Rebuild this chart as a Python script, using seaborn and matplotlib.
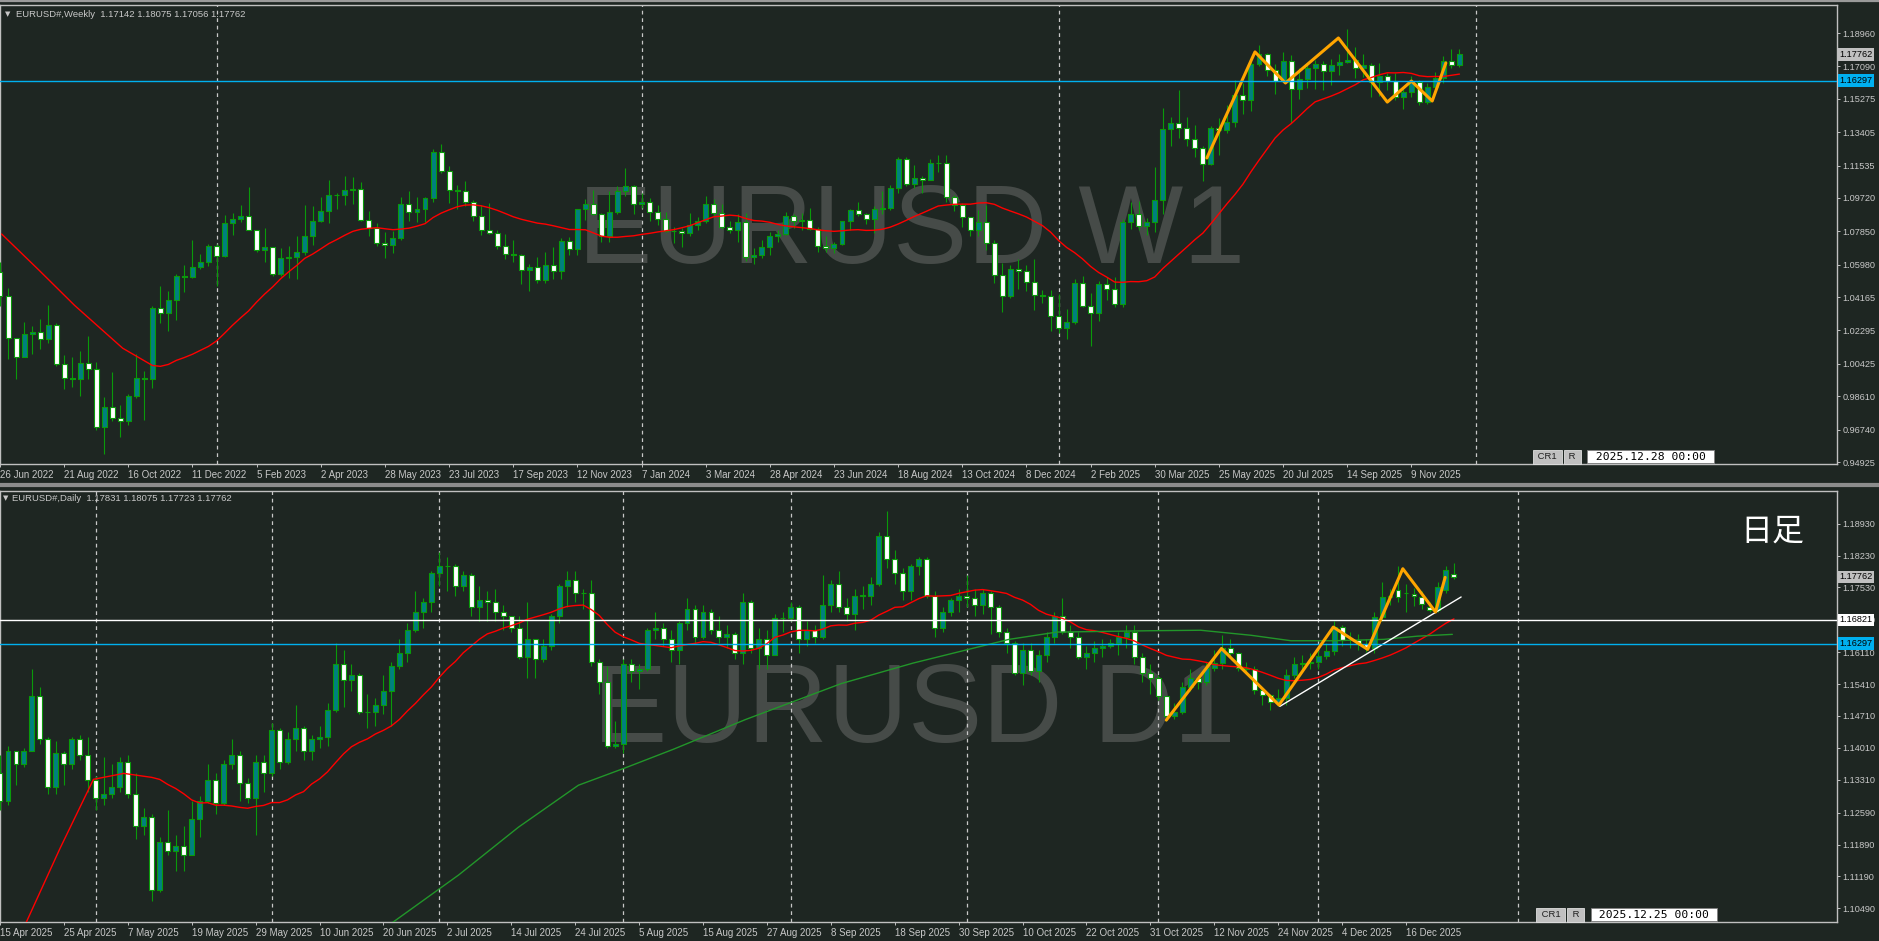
import numpy as np
import pandas as pd
import matplotlib
matplotlib.use("Agg")
import matplotlib.pyplot as plt
import seaborn as sns

# ---------------- weekly panel (EURUSD#, W1) ----------------
w_open = [
    1.0555, 1.0425, 1.0185, 1.0080, 1.0210, 1.0220, 1.0180, 1.0260, 1.0040, 0.9965,
    0.9955, 1.0045, 1.0015, 0.9690, 0.9800, 0.9740, 0.9720, 0.9860, 0.9965, 0.9960,
    1.0355, 1.0325, 1.0400, 1.0535, 1.0530, 1.0585, 1.0615, 1.0705, 1.0645, 1.0830,
    1.0855, 1.0870, 1.0795, 1.0680, 1.0695, 1.0545, 1.0635, 1.0640, 1.0670, 1.0760,
    1.0840, 1.0900, 1.0990, 1.0990, 1.1015, 1.1020, 1.0850, 1.0805, 1.0720, 1.0710,
    1.0750, 1.0940, 1.0895, 1.0910, 1.0970, 1.1230, 1.1125, 1.1015, 1.1010, 1.0950,
    1.0870, 1.0795, 1.0775, 1.0700, 1.0660, 1.0650, 1.0570, 1.0585, 1.0510, 1.0595,
    1.0565, 1.0730, 1.0685, 1.0910, 1.0940, 1.0880, 1.0760, 1.0895, 1.1010, 1.1040,
    1.0940, 1.0950, 1.0895, 1.0855, 1.0785, 1.0785, 1.0775, 1.0820, 1.0840, 1.0940,
    1.0890, 1.0810, 1.0790, 1.0835, 1.0640, 1.0655, 1.0695, 1.0760, 1.0770, 1.0870,
    1.0845, 1.0850, 1.0800, 1.0705, 1.0690, 1.0715, 1.0840, 1.0905, 1.0880, 1.0855,
    1.0910, 1.0915, 1.1025, 1.1190, 1.1050, 1.1085, 1.1075, 1.1165, 1.1165, 1.0975,
    1.0935, 1.0865, 1.0795, 1.0835, 1.0720, 1.0540, 1.0420, 1.0575, 1.0565, 1.0500,
    1.0430, 1.0425, 1.0310, 1.0245, 1.0275, 1.0495, 1.0365, 1.0330, 1.0490, 1.0460,
    1.0375, 1.0835, 1.0880, 1.0815, 1.0835, 1.0960, 1.1360, 1.1390, 1.1365, 1.1300,
    1.1250, 1.1160, 1.1365, 1.1350, 1.1395, 1.1550, 1.1520, 1.1720, 1.1780, 1.1690,
    1.1625, 1.1740, 1.1585, 1.1640, 1.1700, 1.1720, 1.1685, 1.1715, 1.1735, 1.1745,
    1.1700, 1.1715, 1.1620, 1.1655, 1.1625, 1.1535, 1.1565, 1.1620, 1.1510, 1.1595,
    1.1645, 1.1740, 1.17142]
w_high = [
    1.0615, 1.0465, 1.0185, 1.0275, 1.0255, 1.0295, 1.0370, 1.0270, 1.0090, 1.0080,
    1.0115, 1.0200, 1.0050, 0.9855, 0.9999, 0.9810, 0.9875, 1.0095, 1.0000, 1.0365,
    1.0480, 1.0450, 1.0545, 1.0595, 1.0735, 1.0660, 1.0715, 1.0715, 1.0875, 1.0890,
    1.0930, 1.1035, 1.0795, 1.0805, 1.0695, 1.0690, 1.0700, 1.0760, 1.0930, 1.0925,
    1.0975, 1.1075, 1.1000, 1.1095, 1.1090, 1.1060, 1.0900, 1.0830, 1.0780, 1.0785,
    1.0975, 1.1010, 1.0975, 1.0975, 1.1245, 1.1275, 1.1150, 1.1045, 1.1065, 1.0960,
    1.0930, 1.0945, 1.0790, 1.0770, 1.0735, 1.0660, 1.0600, 1.0640, 1.0670, 1.0695,
    1.0750, 1.0755, 1.0910, 1.0965, 1.1015, 1.0890, 1.1010, 1.1040, 1.1140, 1.1045,
    1.1000, 1.0970, 1.0935, 1.0895, 1.0810, 1.0805, 1.0890, 1.0865, 1.0980, 1.0965,
    1.0940, 1.0840, 1.0880, 1.0885, 1.0690, 1.0735, 1.0780, 1.0790, 1.0895, 1.0880,
    1.0890, 1.0915, 1.0810, 1.0760, 1.0725, 1.0845, 1.0910, 1.0950, 1.0890, 1.0925,
    1.1010, 1.1045, 1.1200, 1.1200, 1.1155, 1.1095, 1.1190, 1.1215, 1.1210, 1.0990,
    1.0945, 1.0865, 1.0905, 1.0935, 1.0735, 1.0610, 1.0595, 1.0630, 1.0595, 1.0630,
    1.0455, 1.0455, 1.0435, 1.0350, 1.0520, 1.0535, 1.0440, 1.0505, 1.0530, 1.0530,
    1.0855, 1.0950, 1.0955, 1.0860, 1.1145, 1.1475, 1.1425, 1.1575, 1.1425, 1.1380,
    1.1265, 1.1375, 1.1420, 1.1495, 1.1630, 1.1615, 1.1745, 1.1830, 1.1785, 1.1720,
    1.1790, 1.1770, 1.1700, 1.1730, 1.1745, 1.1740, 1.1750, 1.1780, 1.1920, 1.1820,
    1.1780, 1.1730, 1.1730, 1.1670, 1.1670, 1.1580, 1.1655, 1.1635, 1.1615, 1.1680,
    1.1765, 1.1805, 1.18075]
w_low = [
    1.0365, 1.0070, 0.9955, 1.0080, 1.0095, 1.0125, 1.0160, 1.0030, 0.9900, 0.9910,
    0.9865, 0.9955, 0.9670, 0.9535, 0.9720, 0.9630, 0.9700, 0.9850, 0.9730, 0.9905,
    1.0270, 1.0225, 1.0290, 1.0445, 1.0525, 1.0575, 1.0590, 1.0480, 1.0640, 1.0765,
    1.0835, 1.0795, 1.0670, 1.0615, 1.0535, 1.0535, 1.0525, 1.0515, 1.0655, 1.0710,
    1.0835, 1.0830, 1.0910, 1.0930, 1.0940, 1.0840, 1.0760, 1.0705, 1.0635, 1.0665,
    1.0735, 1.0845, 1.0835, 1.0835, 1.0950, 1.1110, 1.0945, 1.0910, 1.0925, 1.0845,
    1.0765, 1.0770, 1.0685, 1.0630, 1.0615, 1.0490, 1.0450, 1.0495, 1.0495, 1.0520,
    1.0515, 1.0655, 1.0655, 1.0850, 1.0875, 1.0725, 1.0725, 1.0880, 1.0985, 1.0880,
    1.0915, 1.0845, 1.0820, 1.0780, 1.0720, 1.0695, 1.0760, 1.0795, 1.0830, 1.0870,
    1.0800, 1.0775, 1.0725, 1.0620, 1.0600, 1.0635, 1.0650, 1.0725, 1.0765, 1.0805,
    1.0790, 1.0795, 1.0670, 1.0670, 1.0665, 1.0710, 1.0790, 1.0870, 1.0825, 1.0775,
    1.0880, 1.0905, 1.1000, 1.1040, 1.1025, 1.1000, 1.1070, 1.1120, 1.0950, 1.0900,
    1.0810, 1.0760, 1.0760, 1.0680, 1.0495, 1.0335, 1.0410, 1.0460, 1.0450, 1.0345,
    1.0385, 1.0225, 1.0215, 1.0180, 1.0265, 1.0360, 1.0140, 1.0285, 1.0400, 1.0360,
    1.0360, 1.0800, 1.0795, 1.0765, 1.0780, 1.0880, 1.1265, 1.1310, 1.1265, 1.1200,
    1.1065, 1.1155, 1.1210, 1.1335, 1.1370, 1.1445, 1.1460, 1.1710, 1.1655, 1.1555,
    1.1620, 1.1390, 1.1525, 1.1590, 1.1580, 1.1575, 1.1605, 1.1660, 1.1730, 1.1645,
    1.1650, 1.1540, 1.1545, 1.1575, 1.1520, 1.1470, 1.1540, 1.1490, 1.1500, 1.1590,
    1.1615, 1.1700, 1.17056]
w_close = [
    1.0425, 1.0185, 1.0080, 1.0210, 1.0220, 1.0180, 1.0260, 1.0040, 0.9965, 0.9955,
    1.0045, 1.0015, 0.9690, 0.9800, 0.9740, 0.9720, 0.9860, 0.9965, 0.9960, 1.0355,
    1.0325, 1.0400, 1.0535, 1.0530, 1.0585, 1.0615, 1.0705, 1.0645, 1.0830, 1.0855,
    1.0870, 1.0795, 1.0680, 1.0695, 1.0545, 1.0635, 1.0640, 1.0670, 1.0760, 1.0840,
    1.0900, 1.0990, 1.0990, 1.1015, 1.1020, 1.0850, 1.0805, 1.0720, 1.0710, 1.0750,
    1.0940, 1.0895, 1.0910, 1.0970, 1.1230, 1.1125, 1.1015, 1.1010, 1.0950, 1.0870,
    1.0795, 1.0775, 1.0700, 1.0660, 1.0650, 1.0570, 1.0585, 1.0510, 1.0595, 1.0565,
    1.0730, 1.0685, 1.0910, 1.0940, 1.0880, 1.0760, 1.0895, 1.1010, 1.1040, 1.0940,
    1.0950, 1.0895, 1.0855, 1.0785, 1.0785, 1.0775, 1.0820, 1.0840, 1.0940, 1.0890,
    1.0810, 1.0790, 1.0835, 1.0640, 1.0655, 1.0695, 1.0760, 1.0770, 1.0870, 1.0845,
    1.0850, 1.0800, 1.0705, 1.0690, 1.0715, 1.0840, 1.0905, 1.0880, 1.0855, 1.0910,
    1.0915, 1.1025, 1.1190, 1.1050, 1.1085, 1.1075, 1.1165, 1.1165, 1.0975, 1.0935,
    1.0865, 1.0795, 1.0835, 1.0720, 1.0540, 1.0420, 1.0575, 1.0565, 1.0500, 1.0430,
    1.0425, 1.0310, 1.0245, 1.0275, 1.0495, 1.0365, 1.0330, 1.0490, 1.0460, 1.0375,
    1.0835, 1.0880, 1.0815, 1.0835, 1.0960, 1.1360, 1.1390, 1.1365, 1.1300, 1.1250,
    1.1160, 1.1365, 1.1350, 1.1395, 1.1550, 1.1520, 1.1720, 1.1780, 1.1690, 1.1625,
    1.1740, 1.1585, 1.1640, 1.1700, 1.1720, 1.1685, 1.1715, 1.1735, 1.1745, 1.1700,
    1.1715, 1.1620, 1.1655, 1.1625, 1.1535, 1.1565, 1.1620, 1.1510, 1.1595, 1.1645,
    1.1740, 1.1714, 1.17762]
w_date_labels = ["26 Jun 2022", "21 Aug 2022", "16 Oct 2022", "11 Dec 2022", "5 Feb 2023",
                 "2 Apr 2023", "28 May 2023", "23 Jul 2023", "17 Sep 2023", "12 Nov 2023",
                 "7 Jan 2024", "3 Mar 2024", "28 Apr 2024", "23 Jun 2024", "18 Aug 2024",
                 "13 Oct 2024", "8 Dec 2024", "2 Feb 2025", "30 Mar 2025", "25 May 2025",
                 "20 Jul 2025", "14 Sep 2025", "9 Nov 2025"]
w_price_ticks = [1.18960, 1.17090, 1.15275, 1.13405, 1.11535, 1.09720, 1.07850,
                 1.05980, 1.04165, 1.02295, 1.00425, 0.98610, 0.96740, 0.94925]
w_year_bars = [27, 80, 132, 184]
w_ma_head_x = [0.2, 4.8, 9.3, 15.3]
w_ma_head_y = [1.077, 1.057, 1.037, 1.013]
w_zigzag_x = [150.5, 156.5, 160.3, 166.9, 173.0, 176.0, 178.6, 180.3]
w_zigzag_y = [1.1196, 1.1790, 1.1616, 1.1868, 1.1509, 1.1627, 1.1515, 1.1728]
w_blue_level = 1.16297

# ---------------- daily panel (EURUSD#, D1) ----------------
d_open = [
    1.1345, 1.1285, 1.1395, 1.1365, 1.1395, 1.1515, 1.1420, 1.1315, 1.1390, 1.1365,
    1.1420, 1.1385, 1.1330, 1.1290, 1.1300, 1.1315, 1.1370, 1.1300, 1.1230, 1.1250,
    1.1090, 1.1195, 1.1175, 1.1185, 1.1165, 1.1245, 1.1285, 1.1330, 1.1280, 1.1365,
    1.1385, 1.1325, 1.1290, 1.1370, 1.1345, 1.1440, 1.1370, 1.1420, 1.1445, 1.1395,
    1.1420, 1.1425, 1.1485, 1.1585, 1.1550, 1.1560, 1.1480, 1.1480, 1.1495, 1.1525,
    1.1580, 1.1610, 1.1660, 1.1700, 1.1720, 1.1785, 1.1800, 1.1800, 1.1755, 1.1780,
    1.1710, 1.1725, 1.1720, 1.1700, 1.1690, 1.1665, 1.1600, 1.1640, 1.1595, 1.1625,
    1.1690, 1.1755, 1.1770, 1.1740, 1.1740, 1.1590, 1.1545, 1.1405, 1.1410, 1.1585,
    1.1570, 1.1575, 1.1660, 1.1665, 1.1640, 1.1615, 1.1675, 1.1705, 1.1645, 1.1700,
    1.1660, 1.1645, 1.1650, 1.1610, 1.1720, 1.1620, 1.1640, 1.1605, 1.1685, 1.1685,
    1.1710, 1.1640, 1.1660, 1.1645, 1.1715, 1.1760, 1.1710, 1.1695, 1.1735, 1.1735,
    1.1760, 1.1865, 1.1815, 1.1785, 1.1745, 1.1800, 1.1815, 1.1735, 1.1665, 1.1700,
    1.1725, 1.1735, 1.1730, 1.1715, 1.1740, 1.1710, 1.1655, 1.1630, 1.1565, 1.1615,
    1.1570, 1.1605, 1.1645, 1.1690, 1.1655, 1.1645, 1.1600, 1.1610, 1.1620, 1.1625,
    1.1630, 1.1645, 1.1655, 1.1600, 1.1565, 1.1555, 1.1515, 1.1470, 1.1480, 1.1535,
    1.1555, 1.1545, 1.1576, 1.1587, 1.1620, 1.1609, 1.1576, 1.1574, 1.1528, 1.1517,
    1.1502, 1.1510, 1.1560, 1.1586, 1.1587, 1.1590, 1.1602, 1.1613, 1.1666, 1.1637,
    1.1637, 1.1628, 1.1619, 1.1688, 1.1731, 1.1747, 1.1740, 1.1738, 1.1731, 1.1709,
    1.1703, 1.1747, 1.17831]
d_high = [
    1.1385, 1.1405, 1.1395, 1.1400, 1.1575, 1.1535, 1.1425, 1.1415, 1.1395, 1.1425,
    1.1430, 1.1425, 1.1340, 1.1380, 1.1365, 1.1380, 1.1385, 1.1345, 1.1270, 1.1255,
    1.1205, 1.1265, 1.1210, 1.1230, 1.1285, 1.1295, 1.1365, 1.1345, 1.1375, 1.1420,
    1.1395, 1.1335, 1.1385, 1.1385, 1.1455, 1.1445, 1.1435, 1.1495, 1.1450, 1.1430,
    1.1450, 1.1500, 1.1630, 1.1615, 1.1585, 1.1565, 1.1520, 1.1510, 1.1560, 1.1590,
    1.1640, 1.1675, 1.1745, 1.1730, 1.1790, 1.1830, 1.1820, 1.1805, 1.1790, 1.1785,
    1.1755, 1.1745, 1.1750, 1.1715, 1.1690, 1.1690, 1.1720, 1.1640, 1.1640, 1.1695,
    1.1760, 1.1790, 1.1790, 1.1750, 1.1770, 1.1595, 1.1580, 1.1460, 1.1595, 1.1595,
    1.1585, 1.1665, 1.1700, 1.1675, 1.1660, 1.1680, 1.1730, 1.1715, 1.1715, 1.1705,
    1.1690, 1.1670, 1.1655, 1.1740, 1.1725, 1.1665, 1.1660, 1.1695, 1.1700, 1.1720,
    1.1715, 1.1680, 1.1670, 1.1780, 1.1770, 1.1790, 1.1730, 1.1750, 1.1755, 1.1775,
    1.1875, 1.1920, 1.1835, 1.1795, 1.1805, 1.1820, 1.1820, 1.1745, 1.1710, 1.1730,
    1.1750, 1.1780, 1.1750, 1.1750, 1.1745, 1.1715, 1.1665, 1.1635, 1.1630, 1.1630,
    1.1615, 1.1655, 1.1700, 1.1730, 1.1670, 1.1655, 1.1625, 1.1635, 1.1640, 1.1640,
    1.1655, 1.1670, 1.1670, 1.1610, 1.1585, 1.1560, 1.1515, 1.1500, 1.1545, 1.1575,
    1.1560, 1.1590, 1.1615, 1.1648, 1.1640, 1.1612, 1.1590, 1.1580, 1.1535, 1.1520,
    1.1530, 1.1575, 1.1600, 1.1605, 1.1610, 1.1615, 1.1630, 1.1680, 1.1670, 1.1655,
    1.1650, 1.1640, 1.1700, 1.1765, 1.1750, 1.1800, 1.1760, 1.1752, 1.1745, 1.1720,
    1.1765, 1.1800, 1.18075]
d_low = [
    1.1265, 1.1275, 1.1320, 1.1360, 1.1395, 1.1410, 1.1300, 1.1300, 1.1320, 1.1355,
    1.1375, 1.1305, 1.1265, 1.1275, 1.1290, 1.1305, 1.1290, 1.1200, 1.1210, 1.1065,
    1.1085, 1.1165, 1.1130, 1.1130, 1.1165, 1.1205, 1.1280, 1.1255, 1.1275, 1.1355,
    1.1285, 1.1280, 1.1210, 1.1305, 1.1340, 1.1355, 1.1365, 1.1395, 1.1375, 1.1375,
    1.1400, 1.1405, 1.1480, 1.1490, 1.1525, 1.1475, 1.1445, 1.1450, 1.1475, 1.1450,
    1.1575, 1.1590, 1.1655, 1.1665, 1.1700, 1.1755, 1.1745, 1.1735, 1.1745, 1.1690,
    1.1680, 1.1680, 1.1680, 1.1660, 1.1655, 1.1595, 1.1555, 1.1555, 1.1590, 1.1615,
    1.1675, 1.1710, 1.1720, 1.1705, 1.1580, 1.1520, 1.1400, 1.1400, 1.1390, 1.1545,
    1.1530, 1.1570, 1.1640, 1.1625, 1.1590, 1.1585, 1.1660, 1.1630, 1.1640, 1.1650,
    1.1630, 1.1620, 1.1595, 1.1585, 1.1610, 1.1575, 1.1575, 1.1605, 1.1655, 1.1680,
    1.1610, 1.1625, 1.1630, 1.1640, 1.1700, 1.1700, 1.1680, 1.1660, 1.1705, 1.1715,
    1.1755, 1.1795, 1.1760, 1.1725, 1.1725, 1.1780, 1.1730, 1.1645, 1.1655, 1.1690,
    1.1700, 1.1710, 1.1690, 1.1695, 1.1650, 1.1645, 1.1610, 1.1560, 1.1540, 1.1560,
    1.1545, 1.1590, 1.1630, 1.1650, 1.1620, 1.1595, 1.1575, 1.1590, 1.1600, 1.1620,
    1.1605, 1.1620, 1.1585, 1.1545, 1.1520, 1.1505, 1.1460, 1.1465, 1.1475, 1.1525,
    1.1530, 1.1540, 1.1570, 1.1575, 1.1600, 1.1570, 1.1565, 1.1520, 1.1495, 1.1485,
    1.1492, 1.1495, 1.1555, 1.1575, 1.1575, 1.1575, 1.1595, 1.1605, 1.1625, 1.1620,
    1.1615, 1.1612, 1.1610, 1.1680, 1.1715, 1.1720, 1.1700, 1.1712, 1.1705, 1.1698,
    1.1699, 1.1740, 1.17723]
d_close = [
    1.1285, 1.1395, 1.1365, 1.1395, 1.1515, 1.1420, 1.1315, 1.1390, 1.1365, 1.1420,
    1.1385, 1.1330, 1.1290, 1.1300, 1.1315, 1.1370, 1.1300, 1.1230, 1.1250, 1.1090,
    1.1195, 1.1175, 1.1185, 1.1165, 1.1245, 1.1285, 1.1330, 1.1280, 1.1365, 1.1385,
    1.1325, 1.1290, 1.1370, 1.1345, 1.1440, 1.1370, 1.1420, 1.1445, 1.1395, 1.1420,
    1.1425, 1.1485, 1.1585, 1.1550, 1.1560, 1.1480, 1.1480, 1.1495, 1.1525, 1.1580,
    1.1610, 1.1660, 1.1700, 1.1720, 1.1785, 1.1800, 1.1800, 1.1755, 1.1780, 1.1710,
    1.1725, 1.1720, 1.1700, 1.1690, 1.1665, 1.1600, 1.1640, 1.1595, 1.1625, 1.1690,
    1.1755, 1.1770, 1.1740, 1.1740, 1.1590, 1.1545, 1.1405, 1.1410, 1.1585, 1.1570,
    1.1575, 1.1660, 1.1665, 1.1640, 1.1615, 1.1675, 1.1705, 1.1645, 1.1700, 1.1660,
    1.1645, 1.1650, 1.1610, 1.1720, 1.1620, 1.1640, 1.1605, 1.1685, 1.1685, 1.1710,
    1.1640, 1.1660, 1.1645, 1.1715, 1.1760, 1.1710, 1.1695, 1.1735, 1.1735, 1.1760,
    1.1865, 1.1815, 1.1785, 1.1745, 1.1800, 1.1815, 1.1735, 1.1665, 1.1700, 1.1725,
    1.1735, 1.1730, 1.1715, 1.1740, 1.1710, 1.1655, 1.1630, 1.1565, 1.1615, 1.1570,
    1.1605, 1.1645, 1.1690, 1.1655, 1.1645, 1.1600, 1.1610, 1.1620, 1.1625, 1.1630,
    1.1645, 1.1655, 1.1600, 1.1565, 1.1555, 1.1515, 1.1470, 1.1480, 1.1535, 1.1555,
    1.1545, 1.1576, 1.1587, 1.1620, 1.1609, 1.1576, 1.1574, 1.1528, 1.1517, 1.1502,
    1.1510, 1.1560, 1.1586, 1.1587, 1.1590, 1.1602, 1.1613, 1.1666, 1.1637, 1.1637,
    1.1628, 1.1619, 1.1688, 1.1731, 1.1735, 1.1732, 1.1740, 1.1735, 1.1716, 1.1703,
    1.1754, 1.1791, 1.17762]
d_date_labels = ["15 Apr 2025", "25 Apr 2025", "7 May 2025", "19 May 2025", "29 May 2025",
                 "10 Jun 2025", "20 Jun 2025", "2 Jul 2025", "14 Jul 2025", "24 Jul 2025",
                 "5 Aug 2025", "15 Aug 2025", "27 Aug 2025", "8 Sep 2025", "18 Sep 2025",
                 "30 Sep 2025", "10 Oct 2025", "22 Oct 2025", "31 Oct 2025", "12 Nov 2025",
                 "24 Nov 2025", "4 Dec 2025", "16 Dec 2025"]
d_price_ticks = [1.18930, 1.18230, 1.17530, 1.16820, 1.16110, 1.15410, 1.14710,
                 1.14010, 1.13310, 1.12590, 1.11890, 1.11190, 1.10490]
d_month_bars = [12, 34, 55, 78, 99, 121, 145, 165, 190]
d_ma_head_x = [3.2, 7.5, 11.7, 15.5]
d_ma_head_y = [1.1015, 1.1180, 1.1332, 1.1345]
d_slow_ma_x = [47.0, 57.4, 64.9, 72.4, 78.4, 84.3, 93.3, 105.3, 114.3, 126.3, 132.3,
               144.1, 150.3, 156.6, 161.6, 166.9, 173.2, 177.4, 181.8]
d_slow_ma_y = [1.0991, 1.1122, 1.1227, 1.1319, 1.1358, 1.1398, 1.1463, 1.1542, 1.1587,
               1.1639, 1.1655, 1.1658, 1.1659, 1.1648, 1.1636, 1.1636, 1.1639, 1.1646, 1.1650]
d_zigzag_x = [146.0, 152.9, 160.1, 166.9, 171.2, 175.6, 179.7, 180.9]
d_zigzag_y = [1.1462, 1.1619, 1.1495, 1.1666, 1.1617, 1.1794, 1.1699, 1.1775]
d_trend_x = [160.2, 182.9]
d_trend_y = [1.1492, 1.1732]
d_white_level = 1.16821
d_blue_level = 1.16297
last_price = 1.17762

# ---------------- style ----------------
BG = "#1e2622"
FRAME = "#c0c0c0"
TXT = "#c8c8c8"
BULL_FILL = "#008080"
BEAR_FILL = "#ffffff"
CANDLE_EDGE = "#0a9a0a"
BLUE = "#00b0f0"

sns.set_theme(style="dark", rc={"axes.facecolor": BG, "figure.facecolor": BG,
                                "axes.edgecolor": FRAME, "text.color": TXT,
                                "xtick.color": TXT, "ytick.color": TXT})
plt.rcParams["font.family"] = ["Liberation Sans", "DejaVu Sans"]

W, H = 1879, 941
fig = plt.figure(figsize=(W / 100, H / 100), dpi=100)

def px_axes(left, top, right, bottom):
    return fig.add_axes([left / W, 1 - bottom / H, (right - left) / W, (bottom - top) / H])

ax_w = px_axes(0, 5, 1837, 464)
ax_d = px_axes(0, 491, 1837, 922)


def candles(ax, o, h, l, c, body_min):
    o, h, l, c = map(np.asarray, (o, h, l, c))
    x = np.arange(len(c))
    up = c >= o
    ax.vlines(x, l, h, color=CANDLE_EDGE, linewidth=0.8, zorder=3)
    ax.bar(x, np.maximum(np.abs(c - o), body_min), bottom=np.minimum(o, c), width=0.62,
           color=np.where(up, BULL_FILL, BEAR_FILL), edgecolor=CANDLE_EDGE,
           linewidth=0.8, zorder=4)


def frame(ax, xlim, ylim, ticks, labels, price_ticks):
    ax.set_xlim(*xlim)
    ax.set_ylim(*ylim)
    ax.set_xticks(ticks)
    ax.set_xticklabels(labels, ha="left", fontsize=7, color=TXT)
    ax.yaxis.tick_right()
    ax.set_yticks(price_ticks)
    ax.set_yticklabels(["%.5f" % p for p in price_ticks], fontsize=6.6, color=TXT)
    ax.tick_params(axis="both", which="major", length=2.5, width=0.7, color=FRAME,
                   pad=1.5, bottom=True, right=True, left=False)
    ax.grid(False)
    for s in ax.spines.values():
        s.set_color(FRAME)
        s.set_linewidth(1.0)
        s.set_visible(True)


def price_box(ax, price, fc, tc="#000000"):
    ax.text(1.0012, price, "%.5f" % price, transform=ax.get_yaxis_transform(),
            ha="left", va="center", fontsize=6.6, color=tc, zorder=10, clip_on=False,
            bbox=dict(boxstyle="square,pad=0.18", fc=fc, ec="none"))


def corner_boxes(ax, x0, y0, stamp):
    kw = dict(transform=ax.transAxes, va="center", fontsize=6.8, color="#202020", zorder=10)
    ax.text(x0, y0, " CR1 ", ha="center", bbox=dict(boxstyle="square,pad=0.25", fc="#c0c0c0", ec="#e0e0e0", lw=0.6), **kw)
    ax.text(x0 + 0.0135, y0, " R ", ha="center", bbox=dict(boxstyle="square,pad=0.25", fc="#c0c0c0", ec="#e0e0e0", lw=0.6), **kw)
    ax.text(x0 + 0.0225, y0, " " + stamp + " ", ha="left", transform=ax.transAxes, va="center",
            fontsize=8.2, family="DejaVu Sans Mono", color="#000000", zorder=10,
            bbox=dict(boxstyle="square,pad=0.12", fc="#ffffff", ec="#808080", lw=0.6))


# ---------------- weekly ----------------
ax = ax_w
ax.text(0.496, 0.50, "EURUSD W1", transform=ax.transAxes, ha="center", va="center",
        fontsize=80, color="#464b48", zorder=1)
for b in w_year_bars:
    ax.axvline(b, color="#c8c8c8", linewidth=0.9, linestyle=(0, (3, 3)), zorder=2)
candles(ax, w_open, w_high, w_low, w_close, 0.00012)
w_ma = pd.Series(w_close).rolling(20).mean()
sns.lineplot(x=w_ma_head_x + list(range(19, len(w_close))),
             y=w_ma_head_y + list(w_ma.iloc[19:]), ax=ax, color="#ff0000",
             linewidth=1.0, sort=False, estimator=None, zorder=5)
sns.lineplot(x=w_zigzag_x, y=w_zigzag_y, ax=ax, color="#ffa500", linewidth=2.2,
             sort=False, estimator=None, zorder=6)
ax.axhline(w_blue_level, color=BLUE, linewidth=1.0, zorder=6)
frame(ax, (2.5 / 8.03, 1839.5 / 8.03), (0.94813, 1.20529),
      list(range(0, 8 * len(w_date_labels), 8)), w_date_labels, w_price_ticks)
price_box(ax, last_price, "#c0c0c0")
price_box(ax, w_blue_level, BLUE)
ax.text(0.0027, 0.980, "\u25bc", transform=ax.transAxes, ha="left", va="center",
        fontsize=5, color=TXT, family="DejaVu Sans")
ax.text(0.0087, 0.980, "EURUSD#,Weekly  1.17142 1.18075 1.17056 1.17762",
        transform=ax.transAxes, ha="left", va="center", fontsize=6.8, color=TXT)
corner_boxes(ax, 0.8424, 0.016, "2025.12.28 00:00")

# ---------------- daily ----------------
ax = ax_d
ax.text(0.4976, 0.485, "EURUSD D1", transform=ax.transAxes, ha="center", va="center",
        fontsize=80, color="#464b48", zorder=1)
for b in d_month_bars:
    ax.axvline(b, color="#c8c8c8", linewidth=0.9, linestyle=(0, (3, 3)), zorder=2)
candles(ax, d_open, d_high, d_low, d_close, 0.00006)
d_ma = pd.Series(d_close).rolling(20).mean()
sns.lineplot(x=d_ma_head_x + list(range(19, len(d_close))),
             y=d_ma_head_y + list(d_ma.iloc[19:]), ax=ax, color="#ff0000",
             linewidth=1.0, sort=False, estimator=None, zorder=5)
sns.lineplot(x=d_slow_ma_x, y=d_slow_ma_y, ax=ax, color="#22962a", linewidth=1.0,
             sort=False, estimator=None, zorder=5)
sns.lineplot(x=d_trend_x, y=d_trend_y, ax=ax, color="#ffffff", linewidth=1.0,
             sort=False, estimator=None, zorder=6)
sns.lineplot(x=d_zigzag_x, y=d_zigzag_y, ax=ax, color="#ffa500", linewidth=2.2,
             sort=False, estimator=None, zorder=7)
ax.axhline(d_white_level, color="#ffffff", linewidth=1.0, zorder=6)
ax.axhline(d_blue_level, color=BLUE, linewidth=1.0, zorder=6)
frame(ax, (4 / 8.006, 1841 / 8.006), (1.10190, 1.19645),
      list(range(0, 8 * len(d_date_labels), 8)), d_date_labels, d_price_ticks)
price_box(ax, last_price, "#c0c0c0")
price_box(ax, d_white_level, "#ffffff")
price_box(ax, d_blue_level, BLUE)
ax.text(0.0016, 0.983, "\u25bc", transform=ax.transAxes, ha="left", va="center",
        fontsize=5, color=TXT, family="DejaVu Sans")
ax.text(0.0065, 0.983, "EURUSD#,Daily  1.17831 1.18075 1.17723 1.17762",
        transform=ax.transAxes, ha="left", va="center", fontsize=6.8, color=TXT)
ax.text(0.965, 0.905, "日足", transform=ax.transAxes, ha="center", va="center",
        fontsize=23, color="#ffffff", family=["Noto Sans CJK JP", "DejaVu Sans"], zorder=10)
corner_boxes(ax, 0.8443, 0.017, "2025.12.25 00:00")

# window borders
fig.add_artist(plt.Line2D([0, 1], [1 - 1 / H, 1 - 1 / H], transform=fig.transFigure,
                          color="#9a9a9a", linewidth=1.6))
fig.add_artist(plt.Line2D([0, 1], [1 - 484.5 / H, 1 - 484.5 / H], transform=fig.transFigure,
                          color="#8c8c8c", linewidth=3.0))

fig.savefig("out.png", dpi=100, facecolor=BG)
